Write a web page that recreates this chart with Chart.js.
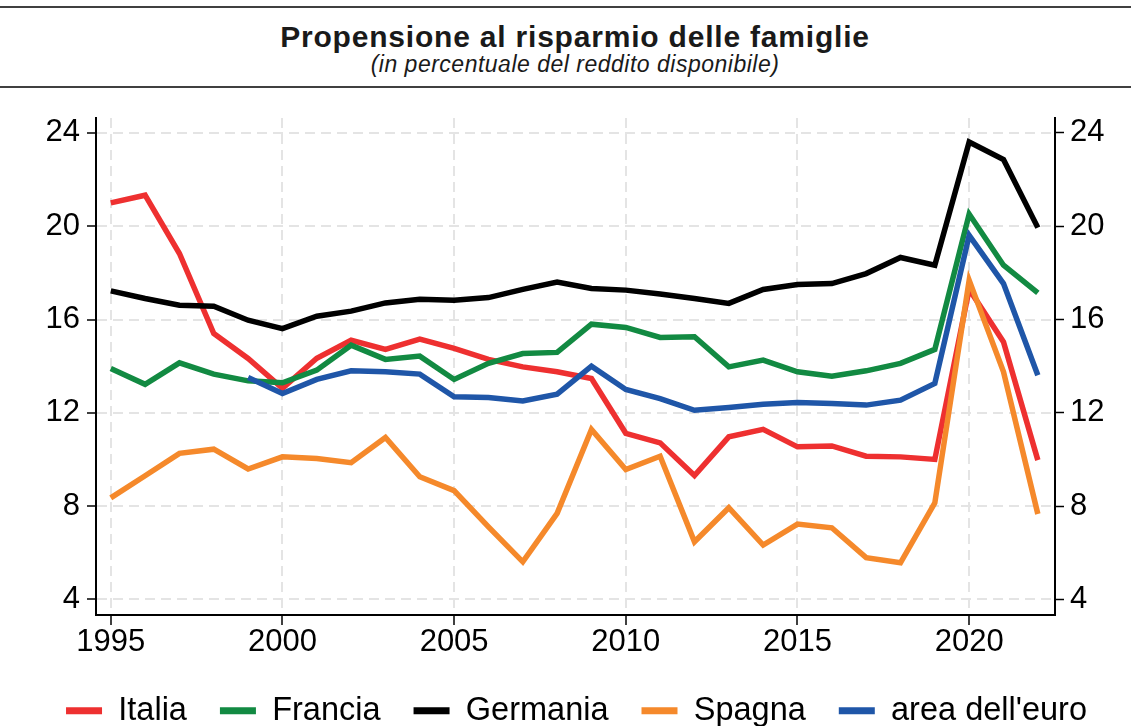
<!DOCTYPE html>
<html>
<head>
<meta charset="utf-8">
<script src="https://cdn.jsdelivr.net/npm/chart.js@4.4.1/dist/chart.umd.min.js"></script>
<style>
  html, body { margin: 0; padding: 0; background: #fff; overflow: hidden; }
  body { width: 1131px; height: 726px; position: relative; font-family: "Liberation Sans", Arial, sans-serif; }
  #wrap { position: absolute; left: 0; top: 0; width: 1131px; height: 737px; }
  .rule { position: absolute; left: 0; width: 1131px; height: 2px; background: #404040; }
  #title { position: absolute; left: 0; width: 1150px; top: 22px; text-align: center; font-weight: bold; font-size: 30px; line-height: 30px; letter-spacing: 0.8px; color: #1a1a1a; }
  #subtitle { position: absolute; left: 0; width: 1150px; top: 53px; text-align: center; font-style: italic; font-size: 23px; line-height: 23px; letter-spacing: 0.5px; color: #1a1a1a; }
</style>
</head>
<body>
<div class="rule" style="top:6px"></div>
<div id="title">Propensione al risparmio delle famiglie</div>
<div id="subtitle">(in percentuale del reddito disponibile)</div>
<div class="rule" style="top:86px"></div>
<div id="wrap"><canvas id="c" width="1131" height="737"></canvas></div>
<script>
const years = [1995,1996,1997,1998,1999,2000,2001,2002,2003,2004,2005,2006,2007,2008,2009,2010,2011,2012,2013,2014,2015,2016,2017,2018,2019,2020,2021,2022];
const italia    = [21.0,21.33,18.83,15.4,14.33,13.05,14.34,15.11,14.72,15.16,14.76,14.29,13.97,13.76,13.47,11.12,10.71,9.31,10.97,11.29,10.54,10.58,10.14,10.11,10.0,17.3,15.04,9.97];
const francia   = [13.9,13.22,14.14,13.66,13.37,13.29,13.83,14.9,14.29,14.43,13.43,14.12,14.54,14.59,15.8,15.66,15.23,15.26,13.97,14.26,13.76,13.57,13.8,14.12,14.72,20.52,18.33,17.14];
const germania  = [17.23,16.9,16.61,16.57,15.97,15.61,16.14,16.36,16.71,16.87,16.83,16.94,17.29,17.61,17.33,17.26,17.09,16.9,16.69,17.29,17.5,17.54,17.97,18.66,18.33,23.61,22.86,19.94];
const spagna    = [8.35,9.3,10.26,10.44,9.59,10.11,10.04,9.86,10.94,9.26,8.66,7.11,5.61,7.69,11.29,9.57,10.14,6.47,7.93,6.33,7.23,7.07,5.79,5.57,8.14,17.68,13.76,7.66];
const euroArea  = [null,null,null,null,13.51,12.83,13.43,13.8,13.76,13.66,12.69,12.66,12.51,12.8,14.0,13.0,12.61,12.11,12.23,12.37,12.44,12.4,12.33,12.54,13.26,19.61,17.54,13.61];
const seriesNames = ["Italia","Francia","Germania","Spagna","area dell'euro"];
const seriesColors = ["#ee3030","#128a42","#000000","#f5892b","#1f56a8"];
const yTicks = [4,8,12,16,20,24];
const xTicks = [1995,2000,2005,2010,2015,2020];

const allSeries = [italia, francia, germania, spagna, euroArea];
const toPoints = arr => years.map((yr, i) => ({x: yr, y: arr[i]}));

const datasets = allSeries.map((arr, i) => ({
  label: seriesNames[i],
  data: toPoints(arr),
  borderColor: seriesColors[i],
  backgroundColor: seriesColors[i],
  borderWidth: 5.5,
  pointRadius: 0,
  pointHoverRadius: 0,
  tension: 0,
  fill: false,
  spanGaps: false,
  order: allSeries.length - i
}));

const tickFont = {family: "'Liberation Sans', Arial, sans-serif", size: 31};
const legendFont = {family: "'Liberation Sans', Arial, sans-serif", size: 32.5};
const gridStyle = {color: '#e4e4e4', lineWidth: 2};
const axisBorder = {display: true, color: '#000', width: 2, dash: [10, 6]};

new Chart(document.getElementById('c'), {
  type: 'line',
  data: {datasets},
  options: {
    responsive: false,
    animation: false,
    devicePixelRatio: 1,
    layout: {padding: {left: 22, top: 118, right: 0, bottom: 0}},
    plugins: {
      title: {display: false},
      tooltip: {enabled: false},
      legend: {
        position: 'bottom',
        align: 'center',
        labels: {
          color: '#000',
          font: legendFont,
          boxWidth: 36,
          boxHeight: 7,
          padding: 33,
          sort: (a, b) => a.datasetIndex - b.datasetIndex,
          generateLabels: (chart) => Chart.defaults.plugins.legend.labels.generateLabels(chart).map(it => Object.assign(it, {fillStyle: it.strokeStyle, lineWidth: 0}))
        }
      }
    },
    scales: {
      x: {
        type: 'linear',
        min: 1994.57,
        max: 2022.5,
        afterFit: s => { s.height = 46.5; },
        border: axisBorder,
        grid: Object.assign({}, gridStyle, {drawTicks: true, tickLength: 10, tickColor: '#000', tickWidth: 1.5, tickBorderDash: []}),
        afterBuildTicks: s => { s.ticks = xTicks.map(v => ({value: v})); },
        ticks: {
          color: '#000',
          font: tickFont,
          padding: -1,
          maxRotation: 0,
          callback: v => String(v)
        }
      },
      y: {
        position: 'left',
        min: 3.33,
        max: 24.64,
        afterFit: s => { s.width = 74; },
        border: axisBorder,
        grid: Object.assign({}, gridStyle, {drawTicks: true, tickLength: 9, tickColor: '#000', tickWidth: 1.5, tickBorderDash: []}),
        afterBuildTicks: s => { s.ticks = yTicks.map(v => ({value: v})); },
        ticks: {color: '#000', font: tickFont, padding: 7, callback: v => String(v)}
      },
      y2: {
        position: 'right',
        min: 3.33,
        max: 24.64,
        afterFit: s => { s.width = 76; },
        border: {display: true, color: '#000', width: 2},
        grid: {drawOnChartArea: false, drawTicks: true, tickLength: 9, tickColor: '#000', tickWidth: 1.5},
        afterBuildTicks: s => { s.ticks = yTicks.map(v => ({value: v})); },
        ticks: {color: '#000', font: tickFont, padding: 6, callback: v => String(v)}
      }
    }
  }
});
</script>
</body>
</html>
